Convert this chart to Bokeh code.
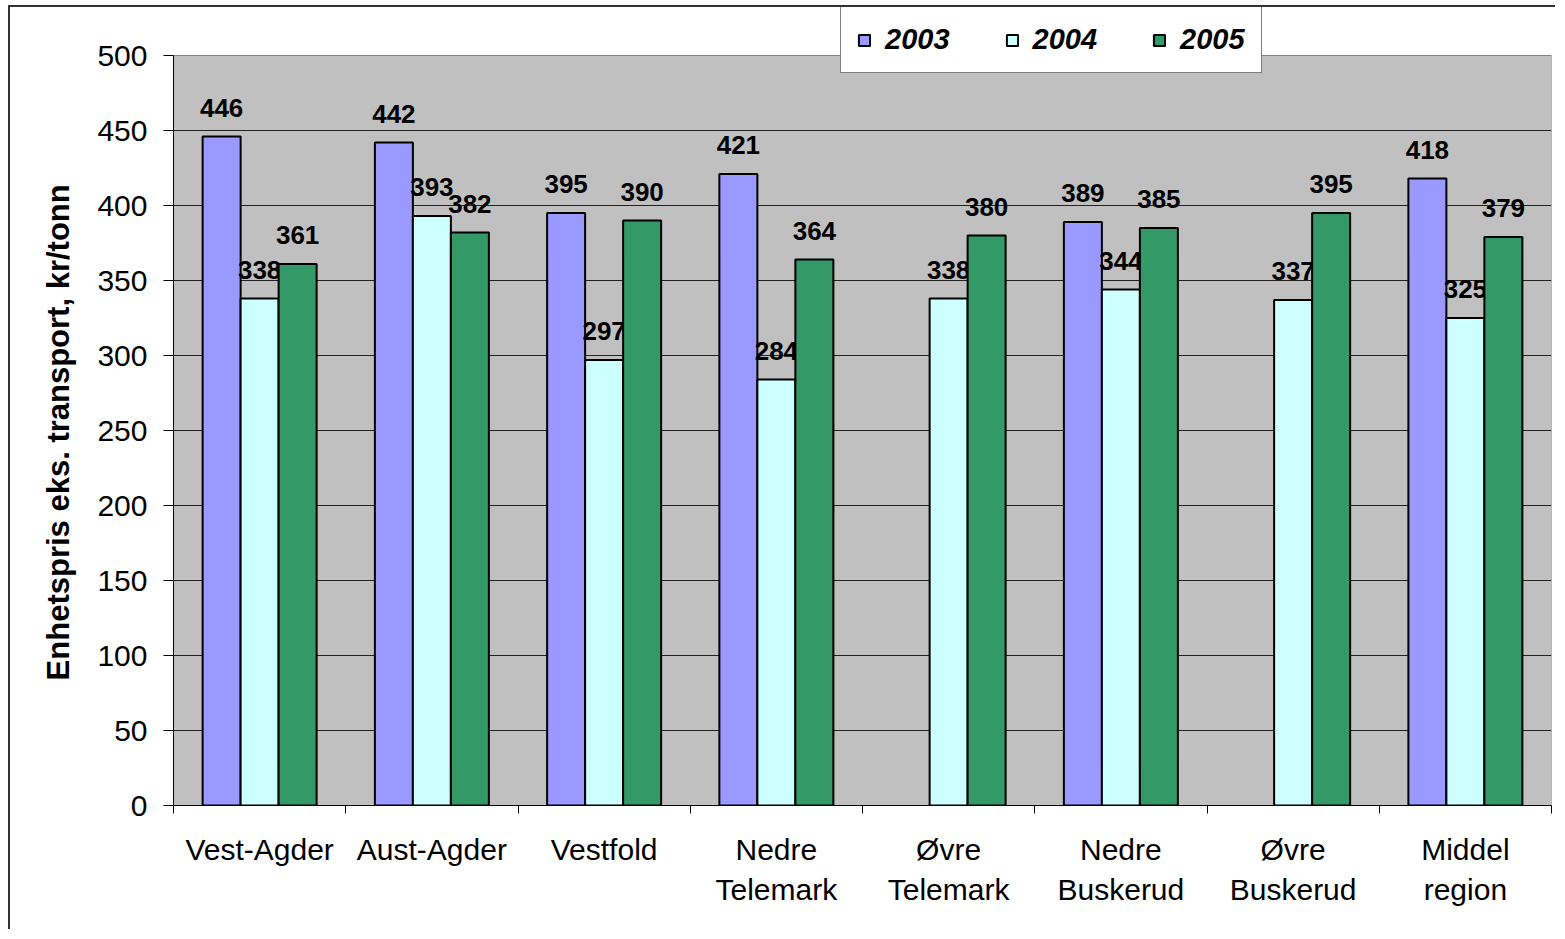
import math
from bokeh.plotting import figure
from bokeh.models import FixedTicker, ColumnDataSource, Legend
from bokeh.core.properties import value
from bokeh.embed import file_html
from bokeh.resources import INLINE

categories = ["Vest-Agder", "Aust-Agder", "Vestfold", "Nedre\nTelemark", "Øvre\nTelemark",
              "Nedre\nBuskerud", "Øvre\nBuskerud", "Middel\nregion"]
years = ["2003", "2004", "2005"]
v2003 = [446, 442, 395, 421, None, 389, None, 418]
v2004 = [338, 393, 297, 284, 338, 344, 337, 325]
v2005 = [361, 382, 390, 364, 380, 385, 395, 379]
y_ticks = [0, 50, 100, 150, 200, 250, 300, 350, 400, 450, 500]
y_title = "Enhetspris eks. transport, kr/tonn"

colors = ["#9999FF", "#CCFFFF", "#339966"]
FONT = "Liberation Sans"
ymax = y_ticks[-1]
ncat = len(categories)

# frame extends above the value area so that the legend can sit across its top edge
p = figure(width=1547, height=924, output_backend="svg", toolbar_location=None,
           x_range=(0, ncat), y_range=(0, ymax * 798 / 750),
           min_border_left=163, min_border_right=6, min_border_top=0, min_border_bottom=126)
p.background_fill_color = "white"
p.border_fill_color = "white"
p.outline_line_color = None
p.styles = {"border-left": "2px solid #333333", "border-top": "2px solid #333333",
            "margin-left": "8px", "margin-top": "5px"}

# grey plot area (value range 0..500)
p.quad(left=[0], right=[ncat], bottom=[0], top=[ymax], fill_color="#C0C0C0",
       line_color="#808080", line_width=1, level="image")

bw = 0.2206
offsets = [-bw, 0.0, bw]
series = [v2003, v2004, v2005]
renderers = []
for k, (yr, vals) in enumerate(zip(years, series)):
    xs = [i + 0.5 + offsets[k] for i, v in enumerate(vals) if v is not None]
    ys = [v for v in vals if v is not None]
    src = ColumnDataSource(dict(x=xs, top=ys, lab=[str(v) for v in ys]))
    r = p.vbar(x="x", top="top", width=bw, bottom=0, source=src,
               fill_color=colors[k], line_color="black", line_width=2)
    renderers.append((yr, r))
    p.text(x="x", y="top", text="lab", source=src, text_align="center",
           text_baseline="alphabetic", y_offset=-29, text_font=value(FONT),
           text_font_size="26px", text_font_style="bold", text_color="black")

legend = Legend(items=[(yr, [r]) for yr, r in renderers], orientation="horizontal",
                location=(667, 732))
legend.label_text_font = FONT
legend.label_text_font_size = "29px"
legend.label_text_font_style = "bold italic"
legend.label_text_color = "black"
legend.glyph_width = 14
legend.glyph_height = 14
legend.label_standoff = 14
legend.spacing = 55
legend.padding = 16
legend.margin = 0
legend.border_line_color = "black"
legend.border_line_width = 1
legend.background_fill_color = "white"
legend.background_fill_alpha = 1
p.add_layout(legend, "center")

# Y axis (title padded with no-break spaces so it centres on the 0..500 area)
p.yaxis.ticker = FixedTicker(ticks=y_ticks)
p.yaxis.bounds = (0, ymax)
p.yaxis.axis_label = y_title + "\u00a0" * 6
p.yaxis.axis_label_text_font = FONT
p.yaxis.axis_label_text_font_size = "31px"
p.yaxis.axis_label_text_font_style = "bold"
p.yaxis.axis_label_text_color = "black"
p.yaxis.axis_label_standoff = 18
p.yaxis.major_label_text_font = FONT
p.yaxis.major_label_text_font_size = "30px"
p.yaxis.major_label_text_color = "black"
p.yaxis.major_label_standoff = 16
p.yaxis.major_tick_out = 10
p.yaxis.major_tick_in = 0
p.yaxis.minor_tick_out = 0
p.yaxis.minor_tick_in = 0
p.yaxis.axis_line_color = "black"
p.yaxis.major_tick_line_color = "black"

# X axis
centers = [i + 0.5 for i in range(ncat)]
p.xaxis.ticker = FixedTicker(ticks=centers, minor_ticks=list(range(ncat + 1)))
p.xaxis.major_label_overrides = {c: lab for c, lab in zip(centers, categories)}
p.xaxis.major_label_text_font = FONT
p.xaxis.major_label_text_font_size = "30px"
p.xaxis.major_label_text_color = "black"
p.xaxis.major_label_text_line_height = 1.24
p.xaxis.major_label_standoff = 19
p.xaxis.major_tick_out = 0
p.xaxis.major_tick_in = 0
p.xaxis.minor_tick_out = 8
p.xaxis.minor_tick_in = 0
p.xaxis.minor_tick_line_color = "black"
p.xaxis.axis_line_color = "black"

p.xgrid.visible = False
p.ygrid.ticker = FixedTicker(ticks=y_ticks[1:-1])
p.ygrid.grid_line_color = "#222222"
p.ygrid.grid_line_width = 1

open("out.html", "w").write(file_html(p, INLINE))
